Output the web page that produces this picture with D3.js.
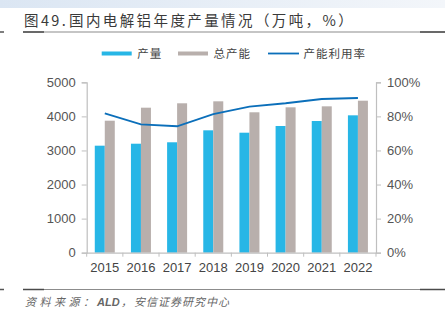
<!DOCTYPE html>
<html>
<head>
<meta charset="utf-8">
<script src="https://cdn.jsdelivr.net/npm/d3@7"></script>
<style>
  html, body { margin: 0; padding: 0; background: #fff; }
  svg { display: block; }
</style>
</head>
<body>
<svg id="chart" width="445" height="322"></svg>
<script>
// yearly series, 万吨 and %
const years = ['2015', '2016', '2017', '2018', '2019', '2020', '2021', '2022'];
const output = [3140, 3198, 3240, 3591, 3521, 3718, 3864, 4031];
const capacity = [3873, 4255, 4384, 4442, 4120, 4266, 4295, 4460];
const utilization = [81.8, 75.3, 74.2, 81.3, 85.7, 87.7, 90.2, 90.8];
const leftTicks = [0, 1000, 2000, 3000, 4000, 5000];
const rightTicks = [0, 20, 40, 60, 80, 100];
const legendNames = ['产量', '总产能', '产能利用率'];

const BLUE = '#27b6e6';
const GRAY = '#b8afac';
const LINE = '#0b6fba';
const AXIS = '#bfbfbf';
const cjk = '"Noto Sans CJK SC", sans-serif';
const latin = 'Arial, "Liberation Sans", sans-serif';

const svg = d3.select('#chart');

// header band
const defs = svg.append('defs');
const grad = defs.append('linearGradient').attr('id', 'band');
grad.append('stop').attr('offset', '0%').attr('stop-color', '#dbe6f3');
grad.append('stop').attr('offset', '100%').attr('stop-color', '#f3f6fa');
svg.append('rect').attr('x', 0).attr('y', 0).attr('width', 445).attr('height', 8).attr('fill', 'url(#band)');

const title = svg.append('text')
  .attr('x', 24).attr('y', 26)
  .style('font-family', cjk).style('font-size', '14.5px').style('fill', '#3a3a3a')
  .style('letter-spacing', '2.4px');
title.append('tspan').text('图49.');
title.append('tspan').attr('x', 69).text('国内电解铝年度产量情况（万吨，%）');

function rule(y) {
  svg.append('line').attr('x1', 0).attr('x2', 4).attr('y1', y).attr('y2', y)
    .attr('stroke', '#555').attr('stroke-width', 1.5);
  svg.append('line').attr('x1', 23).attr('x2', 445).attr('y1', y).attr('y2', y)
    .attr('stroke', '#8c8c8c').attr('stroke-width', 1.2);
  svg.append('line').attr('x1', 23).attr('x2', 44).attr('y1', y).attr('y2', y)
    .attr('stroke', '#4a4a4a').attr('stroke-width', 1.5);
  svg.append('line').attr('x1', 420).attr('x2', 445).attr('y1', y).attr('y2', y)
    .attr('stroke', '#4a4a4a').attr('stroke-width', 1.5);
}
rule(32);
rule(289.5);

// source note
const note = svg.append('text')
  .attr('y', 306)
  .style('font-family', cjk).style('font-size', '11px').style('font-style', 'italic')
  .style('fill', '#666');
note.append('tspan').attr('x', 25).style('letter-spacing', '3.5px').text('资料来源：');
note.append('tspan').attr('x', 97).style('font-family', latin).style('font-weight', 'bold').text('ALD');
note.append('tspan').attr('x', 121).text('，');
note.append('tspan').attr('x', 134).style('letter-spacing', '1px').text('安信证券研究中心');

// plot area
const plotLeft = 86.7, plotRight = 376, plotTop = 82.3, plotBottom = 252.7;

const x = d3.scaleBand().domain(years).range([plotLeft, plotRight]).paddingInner(0).paddingOuter(0);
const yL = d3.scaleLinear().domain([0, 5000]).range([plotBottom, plotTop]);
const yR = d3.scaleLinear().domain([0, 100]).range([plotBottom, plotTop]);
const barW = 10;

const g = svg.append('g');

// bars
g.selectAll('rect.out').data(years).enter().append('rect')
  .attr('x', d => x(d) + x.bandwidth() / 2 - barW)
  .attr('y', (d, i) => yL(output[i]))
  .attr('width', barW)
  .attr('height', (d, i) => plotBottom - yL(output[i]))
  .attr('fill', BLUE);

g.selectAll('rect.cap').data(years).enter().append('rect')
  .attr('x', d => x(d) + x.bandwidth() / 2)
  .attr('y', (d, i) => yL(capacity[i]))
  .attr('width', barW)
  .attr('height', (d, i) => plotBottom - yL(capacity[i]))
  .attr('fill', GRAY);

// utilization line
const line = d3.line()
  .x((d, i) => x(years[i]) + x.bandwidth() / 2)
  .y(d => yR(d));
g.append('path').datum(utilization)
  .attr('d', line)
  .attr('fill', 'none')
  .attr('stroke', LINE)
  .attr('stroke-width', 1.8);

// axes
const leftAxis = svg.append('g').attr('transform', `translate(${plotLeft},0)`)
  .call(d3.axisLeft(yL).tickValues(leftTicks).tickSize(5).tickPadding(6).tickFormat(d3.format('d')));
const rightAxis = svg.append('g').attr('transform', `translate(${plotRight},0)`)
  .call(d3.axisRight(yR).tickValues(rightTicks).tickSize(5).tickPadding(6).tickFormat(d => d + '%'));

const xAxis = svg.append('g').attr('transform', `translate(0,${plotBottom})`)
  .call(d3.axisBottom(x).tickSize(0).tickPadding(10));

// category separators
svg.selectAll('line.sep').data(d3.range(years.length + 1)).enter().append('line')
  .attr('x1', i => plotLeft + i * x.bandwidth())
  .attr('x2', i => plotLeft + i * x.bandwidth())
  .attr('y1', plotBottom).attr('y2', plotBottom + 4)
  .attr('stroke', AXIS).attr('stroke-width', 1);

[leftAxis, rightAxis, xAxis].forEach(a => {
  a.select('.domain').attr('stroke', AXIS).attr('stroke-width', 1.2);
  a.selectAll('.tick line').attr('stroke', AXIS);
  a.selectAll('text')
    .style('font-family', latin).style('font-size', '13px').style('fill', '#555');
});
xAxis.selectAll('text').style('fill', '#444');

// legend
const legend = svg.append('g').style('font-family', cjk).style('font-size', '11.5px')
  .style('letter-spacing', '1px');
const items = [
  { x: 101.7, color: BLUE, type: 'bar' },
  { x: 178, color: GRAY, type: 'bar' },
  { x: 268, color: LINE, type: 'line' }
];
items.forEach((it, i) => {
  if (it.type === 'bar') {
    legend.append('rect').attr('x', it.x).attr('y', 51.5).attr('width', 30).attr('height', 4).attr('fill', it.color);
  } else {
    legend.append('line').attr('x1', it.x).attr('x2', it.x + 31).attr('y1', 53.5).attr('y2', 53.5)
      .attr('stroke', it.color).attr('stroke-width', 1.8);
  }
  legend.append('text').attr('x', it.x + 35.5).attr('y', 57.6).style('fill', '#444').text(legendNames[i]);
});
</script>
</body>
</html>
